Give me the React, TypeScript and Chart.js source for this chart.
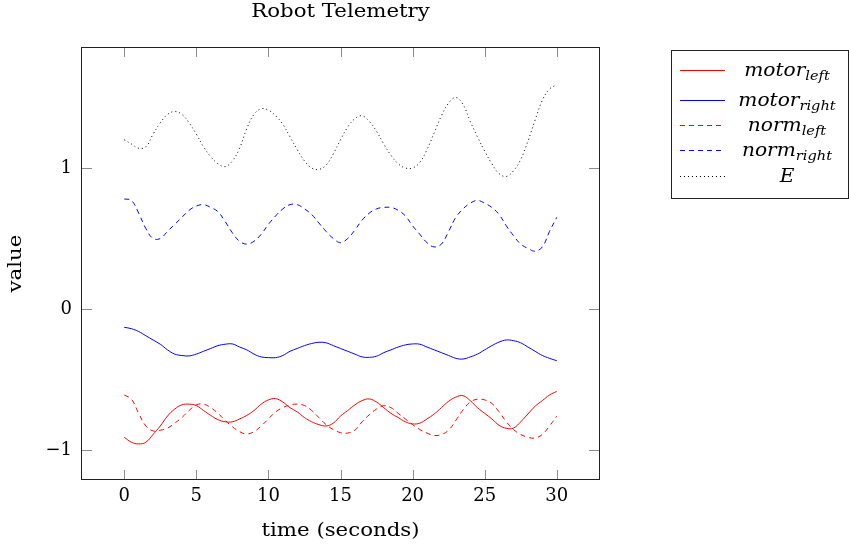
import { useEffect, useRef } from "react";
import { Chart, registerables } from "chart.js";

Chart.register(...registerables);

const timeSeconds = [
  0, 0.5, 1, 1.5, 2, 2.5, 3, 3.5, 4, 4.5, 5, 5.5, 6, 6.5, 7, 7.5, 8, 8.5, 9, 9.5,
  10, 10.5, 11, 11.5, 12, 12.5, 13, 13.5, 14, 14.5, 15, 15.5, 16, 16.5, 17, 17.5,
  18, 18.5, 19, 19.5, 20, 20.5, 21, 21.5, 22, 22.5, 23, 23.5, 24, 24.5, 25, 25.5,
  26, 26.5, 27, 27.5, 28, 28.5, 29, 29.5, 30,
];

const motorLeft = [
  -0.91, -0.945, -0.957, -0.945, -0.89, -0.83, -0.76, -0.71, -0.68, -0.675, -0.685,
  -0.72, -0.755, -0.785, -0.8, -0.8, -0.78, -0.755, -0.72, -0.675, -0.645, -0.636,
  -0.66, -0.7, -0.73, -0.77, -0.8, -0.82, -0.83, -0.81, -0.76, -0.72, -0.68, -0.65,
  -0.638, -0.66, -0.7, -0.74, -0.77, -0.8, -0.815, -0.81, -0.78, -0.745, -0.7,
  -0.655, -0.625, -0.615, -0.65, -0.7, -0.74, -0.78, -0.825, -0.846, -0.845, -0.8,
  -0.745, -0.69, -0.65, -0.61, -0.585,
];

const motorRight = [
  -0.13, -0.14, -0.16, -0.19, -0.22, -0.25, -0.29, -0.32, -0.33, -0.333, -0.32,
  -0.3, -0.28, -0.26, -0.25, -0.248, -0.27, -0.29, -0.32, -0.34, -0.345, -0.345,
  -0.33, -0.3, -0.28, -0.26, -0.245, -0.236, -0.24, -0.26, -0.28, -0.3, -0.32,
  -0.34, -0.343, -0.335, -0.31, -0.29, -0.27, -0.255, -0.248, -0.25, -0.27, -0.29,
  -0.31, -0.33, -0.35, -0.355, -0.34, -0.32, -0.29, -0.26, -0.235, -0.22, -0.225,
  -0.24, -0.27, -0.3, -0.33, -0.35, -0.367,
];

const normLeft = [
  -0.61, -0.64, -0.74, -0.83, -0.865, -0.86, -0.845, -0.81, -0.77, -0.72, -0.68,
  -0.675, -0.7, -0.74, -0.79, -0.835, -0.87, -0.887, -0.87, -0.83, -0.78, -0.73,
  -0.7, -0.68, -0.675, -0.685, -0.72, -0.77, -0.82, -0.855, -0.877, -0.88, -0.86,
  -0.8, -0.75, -0.71, -0.686, -0.7, -0.74, -0.78, -0.82, -0.855, -0.88, -0.897,
  -0.89, -0.86, -0.79, -0.716, -0.66, -0.64, -0.645, -0.67, -0.73, -0.8, -0.855,
  -0.89, -0.91, -0.915, -0.89, -0.83, -0.76,
];

const normRight = [
  0.78, 0.77, 0.68, 0.57, 0.5, 0.5, 0.55, 0.6, 0.65, 0.7, 0.73, 0.74, 0.72, 0.69,
  0.62, 0.54, 0.48, 0.46, 0.48, 0.53, 0.6, 0.66, 0.71, 0.74, 0.74, 0.71, 0.67,
  0.61, 0.55, 0.5, 0.47, 0.5, 0.56, 0.63, 0.68, 0.71, 0.72, 0.72, 0.7, 0.66,
  0.59, 0.53, 0.47, 0.44, 0.46, 0.55, 0.65, 0.71, 0.75, 0.77, 0.75, 0.72, 0.67,
  0.59, 0.52, 0.46, 0.43, 0.41, 0.44, 0.55, 0.65,
];

const energyE = [
  1.2, 1.17, 1.14, 1.15, 1.24, 1.32, 1.38, 1.4, 1.38, 1.32, 1.24, 1.15, 1.08, 1.03,
  1.01, 1.05, 1.14, 1.28, 1.38, 1.42, 1.41, 1.37, 1.31, 1.22, 1.13, 1.05, 1.0, 0.99,
  1.02, 1.1, 1.2, 1.29, 1.35, 1.37, 1.33, 1.26, 1.17, 1.09, 1.03, 1.0, 1.0, 1.04,
  1.13, 1.25, 1.37, 1.46, 1.5, 1.45, 1.33, 1.22, 1.12, 1.03, 0.96, 0.94, 0.98, 1.06,
  1.19, 1.34, 1.48, 1.56, 1.59,
];

const xTickValues = [0, 5, 10, 15, 20, 25, 30];
const yTickValues = [-1, 0, 1];

const chartTitle = "Robot Telemetry";
const xAxisTitle = "time (seconds)";
const yAxisTitle = "value";

const legendEntries = [
  { base: "motor", sub: "left" },
  { base: "motor", sub: "right" },
  { base: "norm", sub: "left" },
  { base: "norm", sub: "right" },
  { base: "E", sub: "" },
];

const SERIF = '"DejaVu Serif", "Liberation Serif", serif';
const TEXT_STRETCH = 1.12;

const seriesStyles = [
  { color: "#ff0000", dash: [] as number[] },
  { color: "#0000ff", dash: [] as number[] },
  { color: "#ff0000", dash: [5, 4] },
  { color: "#0000ff", dash: [5, 4] },
  { color: "#000000", dash: [1, 3] },
];

const seriesValues = [motorLeft, motorRight, normLeft, normRight, energyE];

function stretchedText(ctx: CanvasRenderingContext2D, text: string, cx: number, cy: number) {
  ctx.save();
  ctx.translate(cx, cy);
  ctx.scale(TEXT_STRETCH, 1);
  ctx.textAlign = "center";
  ctx.textBaseline = "middle";
  ctx.fillText(text, 0, 0);
  ctx.restore();
}

const decorPlugin = {
  id: "decor",
  afterDraw(chart: any) {
    const { ctx, chartArea } = chart;
    const { left, right, top, bottom } = chartArea;
    const xs = chart.scales.x;
    const ys = chart.scales.y;
    ctx.save();
    // inward ticks
    ctx.strokeStyle = "#8c8c8c";
    ctx.lineWidth = 1;
    ctx.beginPath();
    for (const v of xTickValues) {
      const px = Math.round(xs.getPixelForValue(v)) + 0.5;
      ctx.moveTo(px, bottom);
      ctx.lineTo(px, bottom - 10);
      ctx.moveTo(px, top);
      ctx.lineTo(px, top + 10);
    }
    for (const v of yTickValues) {
      const py = Math.round(ys.getPixelForValue(v)) + 0.5;
      ctx.moveTo(left, py);
      ctx.lineTo(left + 11, py);
      ctx.moveTo(right, py);
      ctx.lineTo(right - 11, py);
    }
    ctx.stroke();
    // frame
    ctx.strokeStyle = "#222";
    ctx.strokeRect(Math.round(left) + 0.5, Math.round(top) + 0.5, Math.round(right - left) - 1, Math.round(bottom - top) - 1);

    // titles
    ctx.fillStyle = "#000";
    ctx.font = `19px ${SERIF}`;
    stretchedText(ctx, chartTitle, (left + right) / 2, 12);
    stretchedText(ctx, xAxisTitle, (left + right) / 2, 531);
    ctx.save();
    ctx.translate(16, (top + bottom) / 2);
    ctx.rotate(-Math.PI / 2);
    stretchedText(ctx, yAxisTitle, 0, 0);
    ctx.restore();

    // legend
    const bx = 671.5, by = 50.5, bw = 177, bh = 148;
    ctx.strokeStyle = "#222";
    ctx.strokeRect(bx, by, bw, bh);
    const rowY = [70, 100, 125, 150, 176];
    legendEntries.forEach((e, i) => {
      const st = seriesStyles[i];
      ctx.save();
      ctx.strokeStyle = st.color;
      ctx.lineWidth = 1;
      ctx.setLineDash(st.dash);
      ctx.beginPath();
      ctx.moveTo(680, rowY[i] + 0.5);
      ctx.lineTo(725, rowY[i] + 0.5);
      ctx.stroke();
      ctx.restore();
      ctx.font = `italic 18px ${SERIF}`;
      const wb = ctx.measureText(e.base).width;
      ctx.font = `italic 13px ${SERIF}`;
      const ws = e.sub ? ctx.measureText(e.sub).width : 0;
      const total = (wb + ws) * TEXT_STRETCH;
      const startX = 787 - total / 2;
      ctx.save();
      ctx.translate(startX, rowY[i]);
      ctx.scale(TEXT_STRETCH, 1);
      ctx.fillStyle = "#000";
      ctx.textAlign = "left";
      ctx.textBaseline = "alphabetic";
      ctx.font = `italic 18px ${SERIF}`;
      ctx.fillText(e.base, 0, 6);
      if (e.sub) {
        ctx.font = `italic 13px ${SERIF}`;
        ctx.fillText(e.sub, wb, 10);
      }
      ctx.restore();
    });
    ctx.restore();
  },
};

export default function App() {
  const canvasRef = useRef<HTMLCanvasElement | null>(null);

  useEffect(() => {
    document.body.style.margin = "0";
    const canvas = canvasRef.current;
    if (!canvas) return;
    const datasets = seriesValues.map((vals, i) => ({
      label: `${legendEntries[i].base}_${legendEntries[i].sub}`,
      data: timeSeconds.map((t, j) => ({ x: t, y: vals[j] })),
      borderColor: seriesStyles[i].color,
      borderDash: seriesStyles[i].dash,
      borderWidth: 1,
      pointRadius: 0,
      tension: 0.4,
      fill: false,
    }));
    const chart = new Chart(canvas, {
      type: "line",
      data: { datasets },
      options: {
        animation: false,
        responsive: true,
        maintainAspectRatio: false,
        layout: { padding: { left: 0, top: 47, right: 249, bottom: 0 } },
        plugins: {
          legend: { display: false },
          title: { display: false },
          tooltip: { enabled: false },
        },
        scales: {
          x: {
            type: "linear",
            min: -3,
            max: 33,
            grid: { display: false, drawTicks: false },
            border: { display: false },
            afterBuildTicks: (s: any) => {
              s.ticks = xTickValues.map((v) => ({ value: v }));
            },
            afterFit: (s: any) => {
              s.height = 68;
            },
            ticks: {
              padding: 6,
              color: "#000",
              font: { family: SERIF, size: 18 },
              maxRotation: 0,
              callback: (v: any) => String(v),
            },
          },
          y: {
            type: "linear",
            min: -1.213,
            max: 1.858,
            grid: { display: false, drawTicks: false },
            border: { display: false },
            afterBuildTicks: (s: any) => {
              s.ticks = yTickValues.map((v) => ({ value: v }));
            },
            afterFit: (s: any) => {
              s.width = 81;
            },
            ticks: {
              padding: 9,
              color: "#000",
              font: { family: SERIF, size: 18 },
              callback: (v: any) => (Number(v) < 0 ? "\u2212" + Math.abs(Number(v)) : String(v)),
            },
          },
        },
      },
      plugins: [decorPlugin],
    });
    return () => chart.destroy();
  }, []);

  return (
    <div style={{ position: "relative", width: "849px", height: "548px" }}>
      <canvas ref={canvasRef} />
    </div>
  );
}
